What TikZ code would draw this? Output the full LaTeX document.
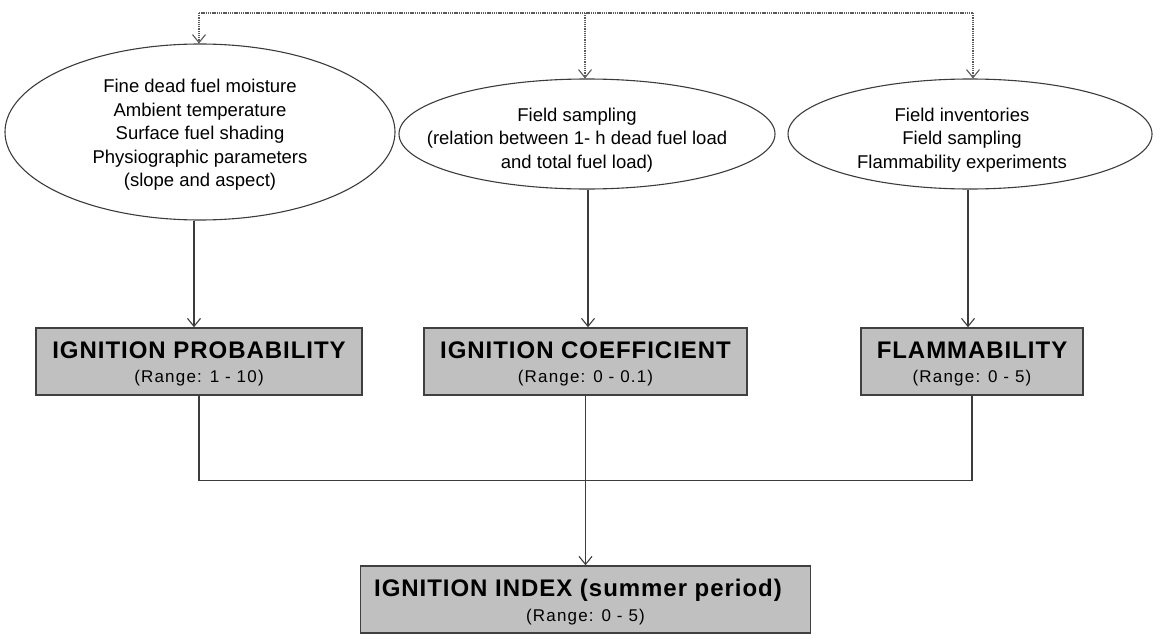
\documentclass[tikz,border=0pt]{standalone}
\usepackage{fontspec}
\setmainfont{Liberation Sans}
\newfontfamily\titlefont[LetterSpace=4]{Liberation Sans}
\newfontfamily\rangefont[LetterSpace=7]{Liberation Sans}
\usetikzlibrary{shapes.geometric,arrows.meta}
\definecolor{linec}{HTML}{3C3C3C}
\definecolor{dotc}{HTML}{5A5A5A}
\definecolor{boxc}{HTML}{404040}
\definecolor{boxfill}{HTML}{C0C0C0}
\begin{document}
\begin{tikzpicture}[x=1pt,y=-1pt,
  conn/.style={draw=linec, line width=1.1pt},
  arr/.style={conn, -{Straight Barb[length=8pt,width=13pt,line width=1.1pt]}},
  dotline/.style={draw=dotc, line width=1.1pt, dash pattern=on 1.3pt off 0.9pt},
  dotarr/.style={dotline, -{Straight Barb[length=8pt,width=13pt,line width=1.1pt]}},
  ell/.style={ellipse, draw=linec, line width=1.1pt, inner sep=0pt, fill=white},
  etext/.style={align=center, font=\fontsize{18.5}{23.5}\selectfont, inner sep=0pt, text=black},
  boxnode/.style={rectangle, draw=boxc, fill=boxfill, line width=1.5pt, minimum height=67pt, inner sep=0pt},
  ttl/.style={font=\titlefont\bfseries\fontsize{24}{28}\selectfont, inner sep=0pt},
  rng/.style={font=\rangefont\fontsize{17}{20}\selectfont, inner sep=0pt},
  ]
\useasboundingbox (0,0) rectangle (1161,642);

% ellipses
\node[ell, minimum width=390pt, minimum height=176pt] (e1) at (200,132) {};
\node[etext] (e1t) at (200,135) {Fine dead fuel moisture\\Ambient temperature\\Surface fuel shading\\Physiographic parameters\\(slope and aspect)};
\node[ell, minimum width=376pt, minimum height=110pt] (e2) at (587,134) {};
\node[etext] (e2t) at (577,140) {Field sampling\\(relation between 1- h dead fuel load\\and total fuel load)};
\node[ell, minimum width=364pt, minimum height=110pt] (e3) at (970,134) {};
\node[etext] (e3t) at (962,140) {Field inventories\\Field sampling\\Flammability experiments};

% boxes
\node[boxnode, minimum width=326pt] (b1) at (199,361.5) {};
\node[ttl] (b1a) at (199,350) {IGNITION PROBABILITY};
\node[rng] (b1b) at (199,378) {(Range: 1 - 10)};
\node[boxnode, minimum width=323pt] (b2) at (585.5,361.5) {};
\node[ttl] (b2a) at (585.5,350) {IGNITION COEFFICIENT};
\node[rng] (b2b) at (585.5,378) {(Range: 0 - 0.1)};
\node[boxnode, minimum width=222pt] (b3) at (972,361.5) {};
\node[ttl] (b3a) at (972,350) {FLAMMABILITY};
\node[rng] (b3b) at (972,378) {(Range: 0 - 5)};

\node[boxnode, minimum width=450pt] (b4) at (585.5,599.5) {};
\node[ttl] (b4a) at (578,590) {IGNITION INDEX (summer period)};
\node[rng] (b4b) at (585.5,617) {(Range: 0 - 5)};

% dotted feedback line
\coordinate (t1) at (199,13);
\coordinate (t2) at (585,13);
\coordinate (t3) at (973,13);
\draw[dotline] (t1) -- (t3);
\draw[dotarr] (t1) -- (t1 |- e1.north);
\draw[dotarr] (t2) -- (t2 |- e2.north);
\draw[dotarr] (t3) -- (t3 |- e3.north);

% ellipse -> box arrows
\draw[arr] ([xshift=-6pt]e1.south) -- ([xshift=-5pt]b1.north);
\draw[arr] ([xshift=1pt]e2.south) -- ([xshift=2.5pt]b2.north);
\draw[arr] ([xshift=-2pt]e3.south) -- ([xshift=-4pt]b3.north);

% join
\draw[conn] (b1.south) -- ++(0,85) -| (b3.south);
\draw[arr] (b2.south) -- (b4.north);
\end{tikzpicture}
\end{document}
